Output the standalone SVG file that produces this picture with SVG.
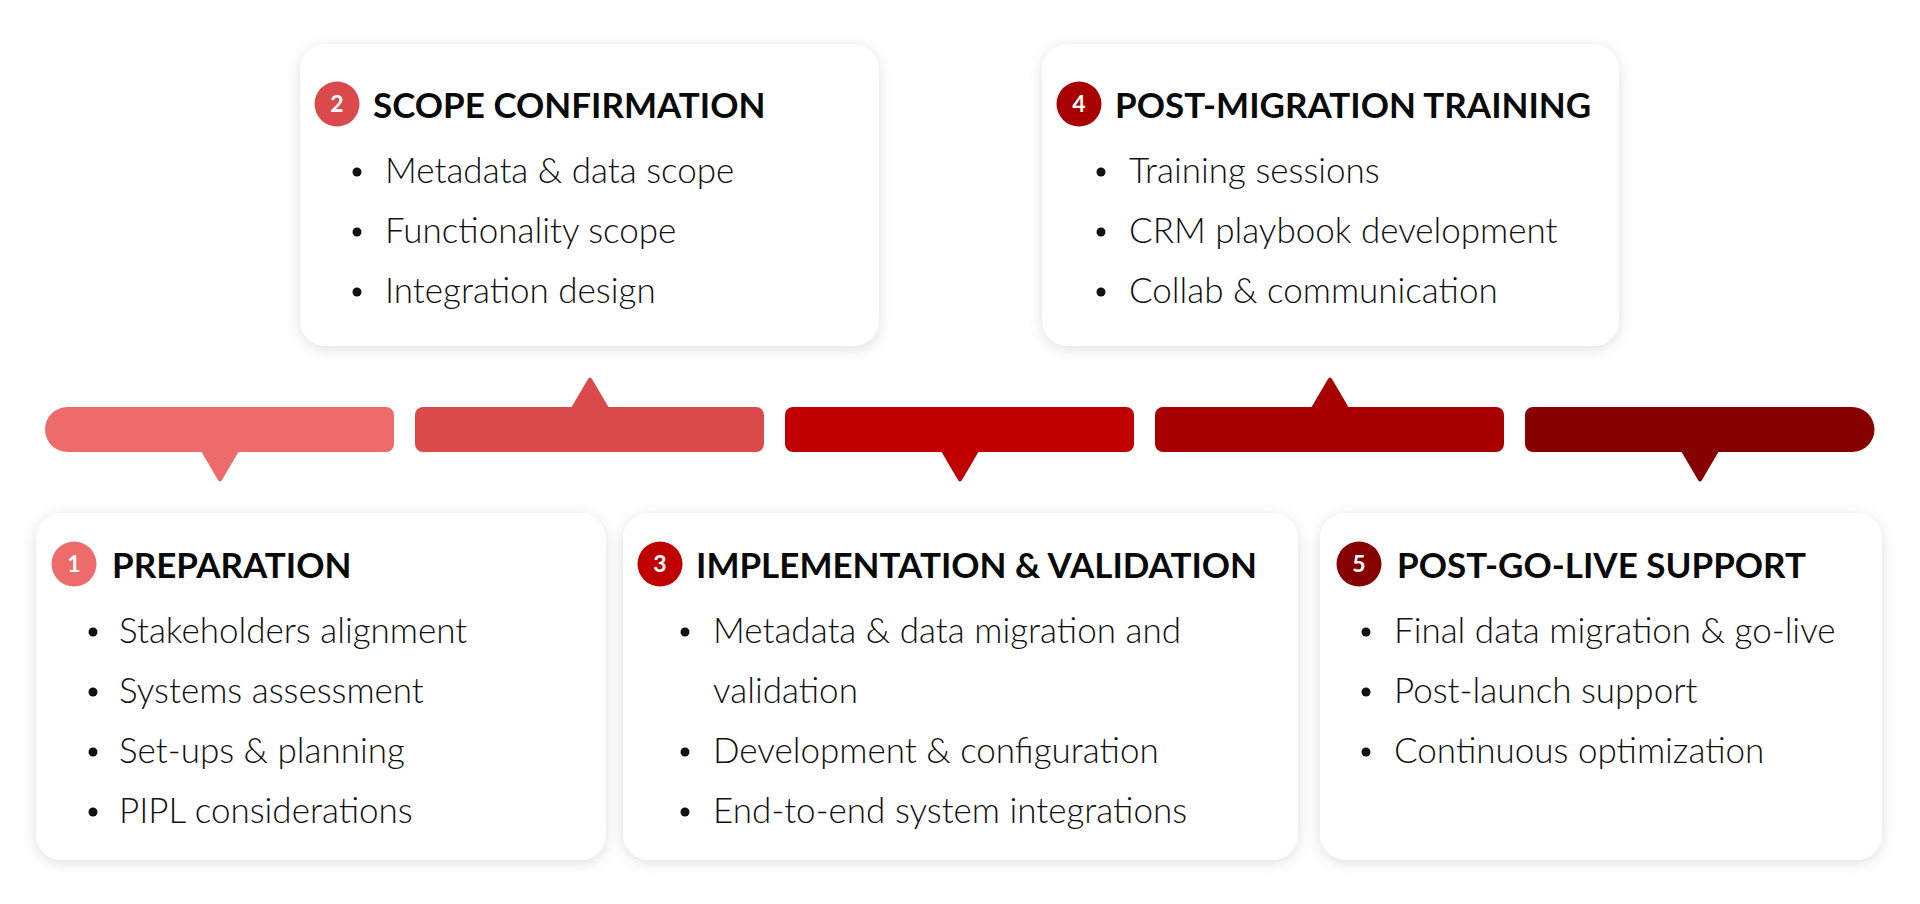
<svg xmlns="http://www.w3.org/2000/svg" width="1920" height="904" viewBox="0 0 1920 904">
<defs>
<filter id="sh" x="-10%" y="-10%" width="120%" height="130%">
<feDropShadow dx="0" dy="3" stdDeviation="7" flood-color="#000" flood-opacity="0.13"/>
</filter>
<style>
.card{fill:#fff;filter:url(#sh)}
.hd{font-family:Lato,"Noto Sans",sans-serif;font-weight:700;font-size:35px;fill:#0a0a0a}
.tx{font-family:"Lato Light",Lato,"Noto Sans",sans-serif;font-weight:300;font-size:35px;fill:#111}
.num{font-family:Lato,"Noto Sans",sans-serif;font-weight:700;font-size:23px;fill:#fff;text-anchor:middle}
.dot{fill:#111}
.c1{fill:#EE6B6B}.c2{fill:#DB4A4A}.c3{fill:#C00000}.c4{fill:#A80000}.c5{fill:#870000}
</style>
</defs>
<rect width="1920" height="904" fill="#fff"/>

<g id="connectors">
<g id="seg1">
<path class="c1" d="M67.5,407 H386 a8,8 0 0 1 8,8 V444 a8,8 0 0 1 -8,8 H67.5 a22.5,22.5 0 0 1 0,-45 Z"/>
<path class="c1" d="M201,451 L239,451 L222,480 Q220,483 218,480 Z"/>
</g>
<g id="seg2">
<rect class="c2" x="415" y="407" width="349" height="45" rx="8"/>
<path class="c2" d="M571,408 L609,408 L592,379 Q590,376 588,379 Z"/>
</g>
<g id="seg3">
<rect class="c3" x="785" y="407" width="349" height="45" rx="8"/>
<path class="c3" d="M941,451 L979,451 L962,480 Q960,483 958,480 Z"/>
</g>
<g id="seg4">
<rect class="c4" x="1155" y="407" width="349" height="45" rx="8"/>
<path class="c4" d="M1311,408 L1349,408 L1332,379 Q1330,376 1328,379 Z"/>
</g>
<g id="seg5">
<path class="c5" d="M1533,407 H1852 a22.5,22.5 0 0 1 0,45 H1533 a8,8 0 0 1 -8,-8 V415 a8,8 0 0 1 8,-8 Z"/>
<path class="c5" d="M1681,451 L1719,451 L1702,480 Q1700,483 1698,480 Z"/>
</g>
</g>

<g id="node1">
<rect class="card" x="36" y="513" width="570" height="347" rx="26"/>
<circle class="c1" cx="74" cy="564" r="22.5"/>
<text class="num" x="74" y="572">1</text>
<text class="hd" x="112" y="578">PREPARATION</text>
<circle class="dot" cx="93" cy="632" r="4.5"/>
<text class="tx" x="119" y="643">Stakeholders alignment</text>
<circle class="dot" cx="93" cy="692" r="4.5"/>
<text class="tx" x="119" y="703">Systems assessment</text>
<circle class="dot" cx="93" cy="752" r="4.5"/>
<text class="tx" x="119" y="763">Set-ups &amp; planning</text>
<circle class="dot" cx="93" cy="812" r="4.5"/>
<text class="tx" x="119" y="823">PIPL considerations</text>
</g>

<g id="node2">
<rect class="card" x="300" y="44" width="579" height="302" rx="26"/>
<circle class="c2" cx="337" cy="104" r="22.5"/>
<text class="num" x="337" y="112">2</text>
<text class="hd" x="373" y="118">SCOPE CONFIRMATION</text>
<circle class="dot" cx="357" cy="172" r="4.5"/>
<text class="tx" x="385" y="183">Metadata &amp; data scope</text>
<circle class="dot" cx="357" cy="232" r="4.5"/>
<text class="tx" x="385" y="243">Functionality scope</text>
<circle class="dot" cx="357" cy="292" r="4.5"/>
<text class="tx" x="385" y="303">Integration design</text>
</g>

<g id="node3">
<rect class="card" x="623" y="513" width="675" height="347" rx="26"/>
<circle class="c3" cx="660" cy="564" r="22.5"/>
<text class="num" x="660" y="572">3</text>
<text class="hd" x="696" y="578">IMPLEMENTATION &amp; VALIDATION</text>
<circle class="dot" cx="685" cy="632" r="4.5"/>
<text class="tx" x="713" y="643">Metadata &amp; data migration and</text>
<text class="tx" x="713" y="703">validation</text>
<circle class="dot" cx="685" cy="752" r="4.5"/>
<text class="tx" x="713" y="763">Development &amp; configuration</text>
<circle class="dot" cx="685" cy="812" r="4.5"/>
<text class="tx" x="713" y="823">End-to-end system integrations</text>
</g>

<g id="node4">
<rect class="card" x="1042" y="44" width="577" height="302" rx="26"/>
<circle class="c4" cx="1079" cy="104" r="22.5"/>
<text class="num" x="1079" y="112">4</text>
<text class="hd" x="1115" y="118">POST-MIGRATION TRAINING</text>
<circle class="dot" cx="1101" cy="172" r="4.5"/>
<text class="tx" x="1129" y="183">Training sessions</text>
<circle class="dot" cx="1101" cy="232" r="4.5"/>
<text class="tx" x="1129" y="243">CRM playbook development</text>
<circle class="dot" cx="1101" cy="292" r="4.5"/>
<text class="tx" x="1129" y="303">Collab &amp; communication</text>
</g>

<g id="node5">
<rect class="card" x="1320" y="513" width="562" height="347" rx="26"/>
<circle class="c5" cx="1359" cy="564" r="22.5"/>
<text class="num" x="1359" y="572">5</text>
<text class="hd" x="1397" y="578">POST-GO-LIVE SUPPORT</text>
<circle class="dot" cx="1366" cy="632" r="4.5"/>
<text class="tx" x="1394" y="643">Final data migration &amp; go-live</text>
<circle class="dot" cx="1366" cy="692" r="4.5"/>
<text class="tx" x="1394" y="703">Post-launch support</text>
<circle class="dot" cx="1366" cy="752" r="4.5"/>
<text class="tx" x="1394" y="763">Continuous optimization</text>
</g>
</svg>
